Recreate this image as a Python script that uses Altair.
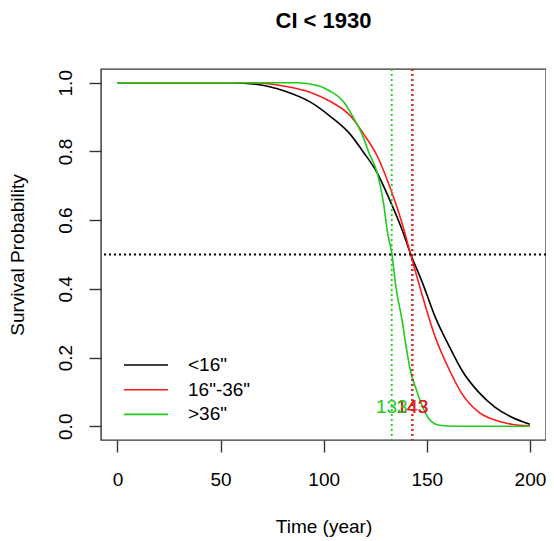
import altair as alt
import pandas as pd

# ---- data ----
series_names = ['<16"', '16"-36"', '>36"']
series_colors = ["#000000", "#FF1A1A", "#1ECC1E"]

black_t = [0, 55, 68, 81, 94, 103, 113, 119, 126, 132, 138, 142, 148, 154, 161, 167, 175, 183, 191, 200]
black_s = [1.0, 1.0, 0.995, 0.976, 0.942, 0.903, 0.849, 0.800, 0.737, 0.659, 0.572, 0.504, 0.416,
           0.319, 0.231, 0.163, 0.100, 0.056, 0.027, 0.006]

red_t = [0, 65, 81, 94, 103, 113, 119, 126, 132, 138, 142, 148, 154, 161, 167, 175, 183, 191, 200]
red_s = [1.0, 1.0, 0.990, 0.971, 0.946, 0.903, 0.854, 0.786, 0.698, 0.591, 0.504, 0.377, 0.261,
         0.163, 0.095, 0.042, 0.018, 0.006, 0.001]

green_t = [0, 87, 97, 103, 110, 114, 119, 122, 126, 129, 131, 133, 135, 138, 140, 142, 145, 148,
           151, 156, 164, 200]
green_s = [1.0, 1.0, 0.992, 0.976, 0.942, 0.903, 0.844, 0.795, 0.737, 0.650, 0.562, 0.504, 0.406,
           0.309, 0.231, 0.163, 0.105, 0.056, 0.022, 0.003, 0.0, 0.0]

median_times = [143, 143, 133]
median_labels = ["143", "143", "133"]
label_level = 0.055
half_level = 0.5

x_ticks = [0, 50, 100, 150, 200]
y_ticks = [0.0, 0.2, 0.4, 0.6, 0.8, 1.0]

FONT = "Liberation Sans"

rows = []
for name, ts, ss in zip(series_names, [black_t, red_t, green_t], [black_s, red_s, green_s]):
    for t, s in zip(ts, ss):
        rows.append({"group": name, "time": t, "surv": s})
df = pd.DataFrame(rows)

med_df = pd.DataFrame({"group": series_names, "time": median_times,
                       "label": median_labels, "surv": [label_level] * 3})
med_black = med_df[med_df["group"] == series_names[0]]
med_red = med_df[med_df["group"] == series_names[1]]
med_green = med_df[med_df["group"] == series_names[2]]

x_scale = alt.Scale(domain=[-8, 207.8], nice=False, zero=False)
y_scale = alt.Scale(domain=[-0.04, 1.04], nice=False, zero=False)

x_enc = alt.X("time:Q", scale=x_scale,
              axis=alt.Axis(values=x_ticks, title="Time (year)", format="d",
                            labelPadding=18, titlePadding=28))
y_enc = alt.Y("surv:Q", scale=y_scale,
              axis=alt.Axis(values=y_ticks, title="Survival Probability", format=".1f",
                            labelAngle=-90, labelAlign="center", labelBaseline="bottom",
                            labelPadding=14, titlePadding=29))

lines = alt.Chart(df).mark_line(strokeWidth=1.6, interpolate="monotone").encode(
    x=x_enc,
    y=y_enc,
    color=alt.Color("group:N",
                    scale=alt.Scale(domain=series_names, range=series_colors),
                    legend=alt.Legend(title=None, orient="none", legendX=34, legendY=285,
                                      symbolType="M-2.2,0H2.2", symbolSize=400,
                                      symbolStrokeWidth=1.6, rowPadding=3.7,
                                      labelOffset=31, labelFontSize=19, labelFont=FONT,
                                      labelColor="black", padding=0)),
    order=alt.Order("time:Q"),
)

hline = alt.Chart(pd.DataFrame({"surv": [half_level]})).mark_rule(
    color="black", strokeDash=[2, 3], strokeWidth=1.8
).encode(y=alt.Y("surv:Q", scale=y_scale))

def vrule(d, col):
    return alt.Chart(d).mark_rule(color=col, strokeDash=[2, 3], strokeWidth=1.8).encode(
        x=alt.X("time:Q", scale=x_scale))

def vtext(d, col):
    return alt.Chart(d).mark_text(color=col, fontSize=19, font=FONT, baseline="middle").encode(
        x=alt.X("time:Q", scale=x_scale), y=alt.Y("surv:Q", scale=y_scale), text="label:N")

chart = alt.layer(
    lines,
    hline,
    vrule(med_black, "black"),
    vrule(med_red, series_colors[1]),
    vrule(med_green, series_colors[2]),
    vtext(med_black, "black"),
    vtext(med_red, series_colors[1]),
    vtext(med_green, series_colors[2]),
).properties(
    width=445,
    height=371,
    autosize=alt.AutoSizeParams(type="none"),
    padding={"left": 93, "top": 61, "right": 0, "bottom": 101},
    title=alt.TitleParams("CI < 1930", fontSize=22, fontWeight="bold", font=FONT,
                          anchor="middle", baseline="middle", offset=25, color="black"),
).configure_view(
    stroke="#333333", strokeWidth=1.4
).configure_axis(
    domain=False, grid=False, tickColor="#333333", tickWidth=1.4, tickSize=12,
    labelFont=FONT, labelFontSize=19, labelColor="black",
    titleFont=FONT, titleFontSize=19, titleFontWeight="normal", titleColor="black",
)

chart.save("out.html", embed_options={"renderer": "svg", "actions": False})
